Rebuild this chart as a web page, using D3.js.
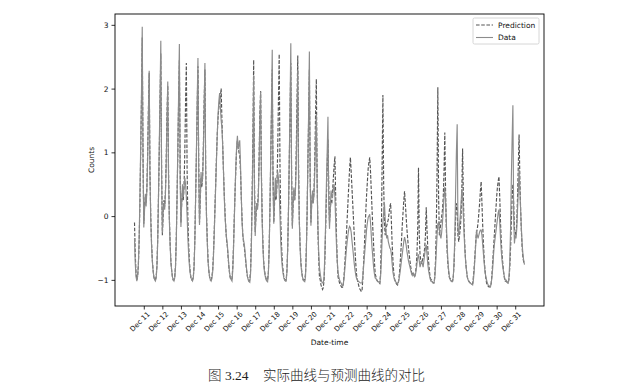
<!DOCTYPE html>
<html><head><meta charset="utf-8">
<script src="https://cdn.jsdelivr.net/npm/d3@7"></script>
<style>body{margin:0;background:#fff}</style>
</head><body>
<svg id="chart" width="639" height="389"></svg>
<script>
// ---- data (hourly, starting Dec 10 12:00) ----
const startTime = new Date(2012, 11, 10, 12);
const tickLabels = ["Dec 11","Dec 12","Dec 13","Dec 14","Dec 15","Dec 16","Dec 17","Dec 18","Dec 19","Dec 20","Dec 21","Dec 22","Dec 23","Dec 24","Dec 25","Dec 26","Dec 27","Dec 28","Dec 29","Dec 30","Dec 31"];
const yTicks = [-1, 0, 1, 2, 3];
const seriesNames = ["Prediction", "Data"];

const predCounts = [
-0.1,-0.6,-0.9,-1.0,-0.95,-0.78,-0.4,0.2,1.0,1.8,2.8,1.0,-0.12,0.15,0.3,0.2,0.45,1.0,1.7,2.25,0.7,0.0,-0.4,-0.68,
-0.85,-0.95,-1.0,-1.0,-0.95,-0.78,-0.35,0.3,1.0,1.8,2.55,0.8,-0.3,0.0,0.25,0.15,0.4,0.9,1.6,2.05,0.7,0.0,-0.4,-0.7,
-0.85,-0.95,-1.0,-1.0,-0.95,-0.78,-0.35,0.3,1.0,1.8,2.45,0.8,-0.1,0.2,0.4,0.25,0.45,1.0,1.8,2.40,0.7,-0.05,-0.45,-0.72,
-0.88,-0.97,-1.0,-1.0,-0.95,-0.78,-0.35,0.3,0.95,1.7,2.35,0.8,-0.1,0.25,0.6,0.45,0.6,1.1,1.8,2.3,0.75,0.05,-0.35,-0.68,
-0.85,-0.95,-1.0,-1.0,-0.95,-0.85,-0.6,-0.25,0.15,0.55,0.95,1.3,1.55,1.7,1.8,1.88,2.0,1.5,1.1,0.7,0.35,0.05,-0.2,-0.38,
-0.48,-0.65,-0.8,-0.92,-0.98,-1.0,-0.98,-0.8,-0.45,0.0,0.4,0.75,1.05,1.2,1.1,1.0,0.95,0.7,0.3,-0.05,-0.3,-0.42,-0.5,-0.62,
-0.75,-0.87,-0.95,-1.0,-1.02,-1.0,-0.85,-0.4,0.3,1.2,2.45,0.6,-0.25,0.0,0.2,0.15,0.35,0.9,1.6,1.96,0.7,0.0,-0.45,-0.72,
-0.85,-0.93,-0.98,-1.0,-1.0,-0.88,-0.5,0.1,0.85,1.6,2.3,0.7,-0.1,0.2,0.4,0.25,0.45,1.0,1.8,2.54,0.8,-0.05,-0.45,-0.72,
-0.85,-0.95,-1.0,-1.0,-1.0,-0.85,-0.5,0.1,0.85,1.6,2.4,0.7,-0.15,0.2,0.4,0.25,0.45,1.0,1.8,2.52,0.8,-0.05,-0.45,-0.72,
-0.85,-0.95,-1.0,-1.0,-1.0,-0.9,-0.55,0.0,0.8,1.5,2.3,0.7,-0.1,0.2,0.35,0.2,0.4,0.9,1.6,2.15,0.6,-0.2,-0.65,-0.95,
-1.0,-1.08,-1.12,-1.15,-1.12,-1.0,-0.7,-0.2,0.3,0.8,1.2,0.5,-0.1,0.1,0.25,0.2,0.4,0.6,0.8,0.94,0.3,-0.3,-0.7,-0.95,
-1.0,-1.05,-1.08,-1.1,-1.12,-1.12,-1.05,-0.9,-0.7,-0.5,-0.25,0.0,0.25,0.5,0.75,0.92,0.7,0.45,0.2,-0.05,-0.3,-0.55,-0.75,-0.92,
-1.0,-1.05,-1.1,-1.14,-1.16,-1.18,-1.18,-1.0,-0.75,-0.5,-0.2,0.1,0.35,0.55,0.75,0.85,0.92,0.7,0.4,0.1,-0.2,-0.45,-0.7,-0.9,
-0.95,-1.0,-1.02,-1.04,-1.05,-1.06,-0.9,-0.3,0.8,1.9,0.5,-0.1,-0.3,-0.2,-0.15,-0.1,-0.05,0.05,0.15,0.2,-0.1,-0.45,-0.7,-0.88,
-0.98,-1.02,-1.05,-1.07,-1.08,-1.05,-0.95,-0.8,-0.6,-0.4,-0.15,0.05,0.25,0.39,0.2,0.0,-0.2,-0.35,-0.5,-0.6,-0.7,-0.8,-0.88,-0.93,
-0.9,-0.93,-0.95,-0.9,-0.8,-0.6,-0.2,0.76,-0.3,-0.6,-0.7,-0.75,-0.7,-0.65,-0.6,-0.5,-0.3,0.14,-0.2,-0.5,-0.7,-0.85,-0.95,-1.0,
-1.0,-1.03,-1.05,-1.05,-0.95,-0.7,-0.2,0.7,2.02,0.3,-0.3,-0.2,-0.1,0.0,0.1,0.3,0.7,1.31,0.4,-0.2,-0.55,-0.75,-0.88,-0.97,
-0.98,-1.0,-1.02,-1.02,-0.95,-0.75,-0.4,0.0,0.2,0.1,-0.3,-0.4,-0.3,-0.2,0.0,0.4,1.06,0.3,-0.2,-0.5,-0.72,-0.85,-0.95,-1.0,
-1.02,-1.04,-1.05,-1.06,-1.07,-1.06,-0.95,-0.8,-0.6,-0.4,-0.25,-0.2,-0.1,0.05,0.2,0.4,0.54,0.2,-0.15,-0.45,-0.7,-0.85,-0.97,-1.05,
-1.08,-1.1,-1.11,-1.11,-1.1,-1.05,-0.9,-0.7,-0.5,-0.3,-0.1,0.1,0.3,0.45,0.55,0.62,0.3,-0.1,-0.4,-0.6,-0.75,-0.88,-0.97,-1.02,
-1.02,-1.03,-1.05,-1.05,-0.98,-0.8,-0.5,-0.1,0.3,0.5,0.2,-0.2,-0.25,-0.3,-0.1,0.3,0.8,1.28,0.6,0.1,-0.25,-0.5,-0.65,-0.72,
-0.75
];

const dataCounts = [
-0.35,-0.75,-0.95,-1.02,-0.95,-0.75,-0.35,0.3,1.1,1.9,2.97,0.9,-0.18,0.1,0.35,0.15,0.4,0.9,1.6,2.28,0.6,-0.05,-0.45,-0.7,
-0.85,-0.95,-1.0,-1.02,-0.97,-0.8,-0.4,0.3,1.1,1.9,2.75,0.7,-0.26,0.05,0.2,0.1,0.35,0.8,1.5,2.11,0.6,-0.05,-0.45,-0.72,
-0.85,-0.95,-1.0,-1.02,-0.97,-0.8,-0.4,0.3,1.1,1.9,2.70,0.6,-0.17,0.2,0.5,0.3,0.45,0.6,0.5,0.3,0.0,-0.35,-0.6,-0.78,
-0.9,-0.97,-1.0,-1.02,-0.97,-0.8,-0.4,0.3,1.0,1.8,2.48,0.7,-0.14,0.3,0.69,0.5,0.6,1.0,1.7,2.40,0.7,0.0,-0.4,-0.7,
-0.85,-0.95,-1.0,-1.02,-0.98,-0.88,-0.65,-0.3,0.1,0.5,0.9,1.3,1.6,1.8,1.93,1.7,1.5,1.38,1.1,0.7,0.3,0.0,-0.2,-0.35,
-0.45,-0.62,-0.78,-0.9,-0.97,-1.0,-1.02,-0.85,-0.5,-0.05,0.4,0.8,1.1,1.26,1.05,1.12,1.19,0.8,0.3,-0.1,-0.3,-0.38,-0.45,-0.58,
-0.72,-0.85,-0.95,-1.0,-1.03,-1.04,-0.9,-0.5,0.2,1.0,2.2,0.4,-0.31,0.05,0.2,0.1,0.3,0.8,1.5,1.95,0.6,-0.1,-0.5,-0.75,
-0.88,-0.95,-1.0,-1.02,-1.03,-0.9,-0.55,0.1,0.9,1.7,2.61,0.5,-0.12,0.3,0.6,0.3,0.5,0.7,0.6,0.4,0.0,-0.4,-0.65,-0.8,
-0.9,-0.97,-1.0,-1.02,-1.02,-0.88,-0.5,0.1,0.9,1.7,2.71,0.6,-0.2,0.2,0.45,0.25,0.4,0.8,1.5,2.3,0.6,-0.1,-0.5,-0.75,
-0.88,-0.95,-1.0,-1.02,-1.03,-0.95,-0.6,0.0,0.8,1.6,2.58,0.6,-0.15,0.2,0.4,0.2,0.35,0.7,1.2,1.6,0.5,-0.15,-0.55,-0.8,
-0.9,-0.98,-1.03,-1.05,-1.05,-0.95,-0.6,-0.1,0.5,1.0,1.56,0.2,-0.2,0.1,0.4,0.3,0.3,0.45,0.5,0.3,-0.1,-0.45,-0.7,-0.88,
-0.95,-1.0,-1.03,-1.05,-1.08,-1.1,-1.05,-0.95,-0.8,-0.65,-0.5,-0.38,-0.28,-0.2,-0.16,-0.18,-0.25,-0.38,-0.5,-0.62,-0.75,-0.85,-0.93,-0.98,
-1.0,-1.02,-1.03,-1.04,-1.05,-1.05,-1.05,-0.95,-0.8,-0.65,-0.5,-0.35,-0.2,-0.1,-0.02,0.0,0.03,-0.1,-0.3,-0.5,-0.65,-0.8,-0.9,-0.97,
-0.98,-1.0,-1.02,-1.03,-1.04,-1.05,-0.95,-0.7,-0.35,-0.1,0.05,0.2,-0.05,-0.25,-0.35,-0.3,-0.4,-0.45,-0.5,-0.52,-0.6,-0.75,-0.88,-0.95,
-1.0,-1.02,-1.04,-1.05,-1.06,-1.03,-0.98,-0.9,-0.8,-0.7,-0.6,-0.5,-0.4,-0.33,-0.38,-0.45,-0.55,-0.62,-0.7,-0.75,-0.8,-0.85,-0.9,-0.93,
-0.9,-0.93,-0.95,-0.92,-0.85,-0.75,-0.65,-0.6,-0.7,-0.8,-0.75,-0.7,-0.75,-0.8,-0.7,-0.6,-0.5,-0.45,-0.6,-0.75,-0.85,-0.92,-0.98,-1.02,
-1.02,-1.04,-1.05,-1.05,-0.98,-0.8,-0.55,-0.3,-0.12,-0.1,-0.2,-0.3,-0.35,-0.25,-0.1,0.1,0.3,0.46,0.25,-0.1,-0.45,-0.7,-0.85,-0.95,
-1.0,-1.02,-1.03,-1.03,-0.95,-0.7,-0.3,0.4,1.0,1.44,-0.2,-0.3,-0.15,0.0,0.2,0.42,0.3,0.0,-0.3,-0.55,-0.72,-0.85,-0.95,-1.0,
-1.02,-1.04,-1.05,-1.06,-1.07,-1.08,-1.0,-0.85,-0.65,-0.45,-0.22,-0.3,-0.35,-0.3,-0.25,-0.22,-0.22,-0.3,-0.45,-0.6,-0.75,-0.88,-0.95,-1.0,
-1.05,-1.08,-1.09,-1.1,-1.11,-1.05,-0.95,-0.8,-0.6,-0.45,-0.35,-0.25,-0.15,-0.05,0.05,0.1,-0.1,-0.35,-0.55,-0.7,-0.8,-0.88,-0.95,-1.0,
-1.0,-1.02,-1.04,-1.05,-0.95,-0.7,-0.2,0.6,1.2,1.74,0.0,-0.43,-0.3,-0.35,-0.2,0.1,0.4,0.73,0.4,0.1,-0.2,-0.45,-0.6,-0.7,
-0.76
];

// ---- layout ----
const plot = {left: 115, top: 14, right: 544, bottom: 306};
const svg = d3.select("#chart");
const font = "'DejaVu Sans', sans-serif";

const HOUR = 3600 * 1000;
const times = d3.range(dataCounts.length).map(i => new Date(+startTime + i * HOUR));
const t0 = times[0], t1 = times[times.length - 1];
const pad = (t1 - t0) * 0.05;

const x = d3.scaleTime()
  .domain([new Date(+t0 - pad), new Date(+t1 + pad)])
  .range([plot.left, plot.right]);
const y = d3.scaleLinear().domain([-1.41, 3.17]).range([plot.bottom, plot.top]);

const line = d3.line().x((d, i) => x(times[i])).y(d => y(d));

const gLines = svg.append("g");
gLines.append("path").datum(predCounts)
  .attr("d", line).attr("fill", "none")
  .attr("stroke", "#555").attr("stroke-width", 1.15)
  .attr("stroke-dasharray", "3.6,1.6");
gLines.append("path").datum(dataCounts)
  .attr("d", line).attr("fill", "none")
  .attr("stroke", "#8c8c8c").attr("stroke-width", 1.15);

// frame
svg.append("rect")
  .attr("x", plot.left).attr("y", plot.top)
  .attr("width", plot.right - plot.left).attr("height", plot.bottom - plot.top)
  .attr("fill", "none").attr("stroke", "#000").attr("stroke-width", 0.9);

// y axis
const yAxis = d3.axisLeft(y).tickValues(yTicks).tickSize(3.5).tickPadding(3)
  .tickFormat(d => d < 0 ? "\u2212" + Math.abs(d) : String(d));
const gy = svg.append("g").attr("transform", `translate(${plot.left},0)`).call(yAxis);
gy.select(".domain").remove();
gy.selectAll("line").attr("stroke", "#000").attr("stroke-width", 0.8);
gy.selectAll("text").attr("font-family", font).attr("font-size", 7.5).attr("fill", "#111");

// x axis
const parseTick = d3.timeParse("%Y %b %d");
const tickDates = tickLabels.map(s => parseTick("2012 " + s));
const xAxis = d3.axisBottom(x).tickValues(tickDates).tickSize(3.5)
  .tickFormat((d, i) => tickLabels[i]);
const gx = svg.append("g").attr("transform", `translate(0,${plot.bottom})`).call(xAxis);
gx.select(".domain").remove();
gx.selectAll("line").attr("stroke", "#000").attr("stroke-width", 0.8);
gx.selectAll("text")
  .attr("font-family", font).attr("font-size", 7).attr("fill", "#111")
  .attr("text-anchor", "end")
  .attr("y", 0).attr("dy", 0)
  .attr("transform", "translate(6,8.5) rotate(-45)");

// axis labels
svg.append("text").attr("x", (plot.left + plot.right) / 2).attr("y", 345)
  .attr("text-anchor", "middle").attr("font-family", font).attr("font-size", 7.5)
  .attr("fill", "#111").text("Date-time");
svg.append("text")
  .attr("transform", `translate(94,${(plot.top + plot.bottom) / 2}) rotate(-90)`)
  .attr("text-anchor", "middle").attr("font-family", font).attr("font-size", 7.5)
  .attr("fill", "#111").text("Counts");

// legend
const lg = svg.append("g").attr("transform", "translate(473,18)");
lg.append("rect").attr("width", 66).attr("height", 26).attr("rx", 1.5)
  .attr("fill", "#fff").attr("stroke", "#ccc").attr("stroke-width", 0.8);
const legendStyles = [
  {stroke: "#555", dash: "3.6,1.6"},
  {stroke: "#8c8c8c", dash: null}
];
seriesNames.forEach((name, i) => {
  const yy = 7 + i * 12.5;
  lg.append("line").attr("x1", 3).attr("x2", 20).attr("y1", yy).attr("y2", yy)
    .attr("stroke", legendStyles[i].stroke).attr("stroke-width", 1.1)
    .attr("stroke-dasharray", legendStyles[i].dash);
  lg.append("text").attr("x", 25).attr("y", yy + 2.7)
    .attr("font-family", font).attr("font-size", 7.5).attr("fill", "#111").text(name);
});

// caption
const cap = svg.append("text").attr("x", 208).attr("y", 380)
  .attr("font-size", 13.5).attr("fill", "#222");
cap.append("tspan").attr("font-family", "'Noto Sans CJK SC', sans-serif").attr("font-weight", 300).text("图");
cap.append("tspan").attr("font-family", "'Liberation Serif', serif").text(" 3.24");
svg.append("text").attr("x", 263).attr("y", 380)
  .attr("font-family", "'Noto Sans CJK SC', sans-serif").attr("font-size", 13.5)
  .attr("font-weight", 300).attr("fill", "#222").text("实际曲线与预测曲线的对比");
</script>
</body></html>
